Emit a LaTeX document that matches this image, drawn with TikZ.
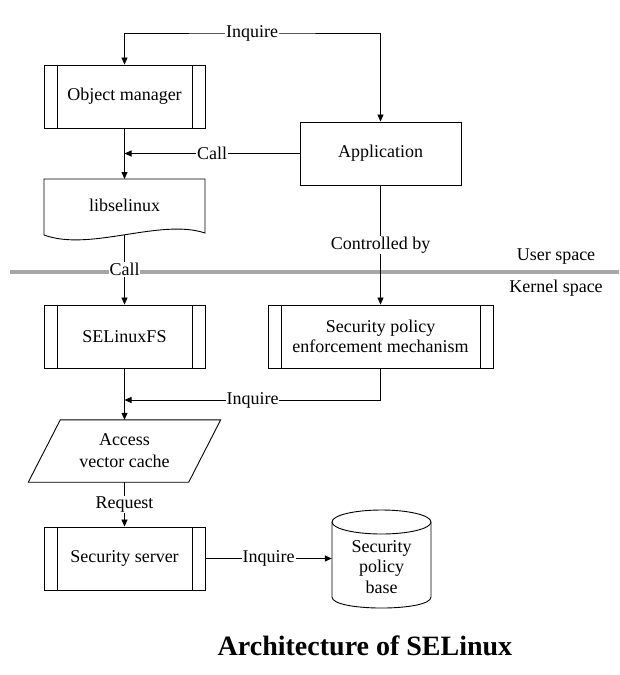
\documentclass[tikz,border=0pt]{standalone}
\usepackage{fontspec}
\setmainfont{Liberation Serif}
\usetikzlibrary{arrows.meta}
\begin{document}
\begin{tikzpicture}[x=1pt,y=-1pt,
  every node/.style={font=\fontsize{18}{20}\selectfont},
  box/.style={draw, line width=0.9pt, minimum width=161pt, minimum height=63pt, inner sep=0pt, align=center},
  predef/.style={box, path picture={
     \draw[line width=0.9pt] ([xshift=13pt]path picture bounding box.north west) -- ([xshift=13pt]path picture bounding box.south west);
     \draw[line width=0.9pt] ([xshift=-13pt]path picture bounding box.north east) -- ([xshift=-13pt]path picture bounding box.south east);}},
  shapeline/.style={line width=0.9pt},
  conn/.style={line width=0.8pt, -{Triangle[length=7pt,width=6pt]}},
  lbl/.style={fill=white, inner sep=1pt},
]
\useasboundingbox (0,0) rectangle (619,675);

% user / kernel space separator
\coordinate (sepL) at (10,272);
\coordinate (sepR) at (619,272);
\draw[line width=4pt, black!35] (sepL) -- (sepR);
\node (us) at (556,257) {User space};
\node (ks) at (556,288) {Kernel space};

% nodes
\node[predef] (om) at (124.5,96.5) {Object manager};
\node[box] (app) at (380.5,153.5) {Application};
\node[inner sep=0pt, minimum width=161pt, minimum height=54pt] (lib) at (124.5,205) {libselinux};
\draw[shapeline] (44,179) -- (205,179) -- (205,233)
   .. controls (160,218) and (90,252) .. (44,235) -- cycle;
\coordinate (libbot) at (124.5,235);
\node[predef] (selfs) at (124.5,336.5) {SELinuxFS};
\node[predef, minimum width=225pt] (spem) at (380.5,336.5) {Security policy\\enforcement mechanism};
\node[inner sep=0pt, minimum width=160pt, minimum height=62pt, align=center,
      font=\fontsize{18}{22}\selectfont] (avc) at (124.5,451) {Access\\vector cache};
\draw[shapeline] ([xshift=16pt]avc.north west) -- ([xshift=16pt]avc.north east)
   -- ([xshift=-16pt]avc.south east) -- ([xshift=-16pt]avc.south west) -- cycle;
\node[predef] (ss) at (124.5,558.5) {Security server};

% cylinder
\draw[shapeline, fill=white] (332,522) -- (332,597) .. controls (332,611.7) and (431,611.7) .. (431,597) -- (431,522);
\draw[shapeline, fill=white] (381.5,522) ellipse [x radius=49.5, y radius=12];
\node[inner sep=0pt, minimum width=99pt, align=center, font=\fontsize{18}{20.5}\selectfont] (cyl) at (381.5,567) {Security\\policy\\base};

% connectors
\coordinate (topy) at (252,33);
\draw[line width=0.8pt, {Triangle[length=7pt,width=6pt]}-{Triangle[length=7pt,width=6pt]}]
   (om.north) |- (topy) node[lbl] {Inquire} -| (app.north);
\draw[conn] (om.south) -- (om.south |- 0,179);
\draw[conn] (app.west) -- node[lbl, pos=0.5] {Call} (app.west -| om.south);
\draw[conn] (libbot) -- node[lbl, pos=0.5] {Call} (selfs.north);
\draw[conn] (app.south) -- node[lbl, pos=0.5] {Controlled by} (spem.north);
\draw[conn] (selfs.south) -- (avc.north);
\coordinate (inq2) at (124.5,400);
\draw[conn] (spem.south) |- node[lbl, pos=0.75] {Inquire} (inq2);
\draw[conn] (avc.south) -- node[lbl, pos=0.5] {Request} (ss.north);
\draw[conn] (ss.east) -- node[lbl, pos=0.5] {Inquire} (ss.east -| cyl.west);

% title
\node[font=\fontsize{28}{32}\selectfont\bfseries] (title) at (365,646) {Architecture of SELinux};
\end{tikzpicture}
\end{document}
